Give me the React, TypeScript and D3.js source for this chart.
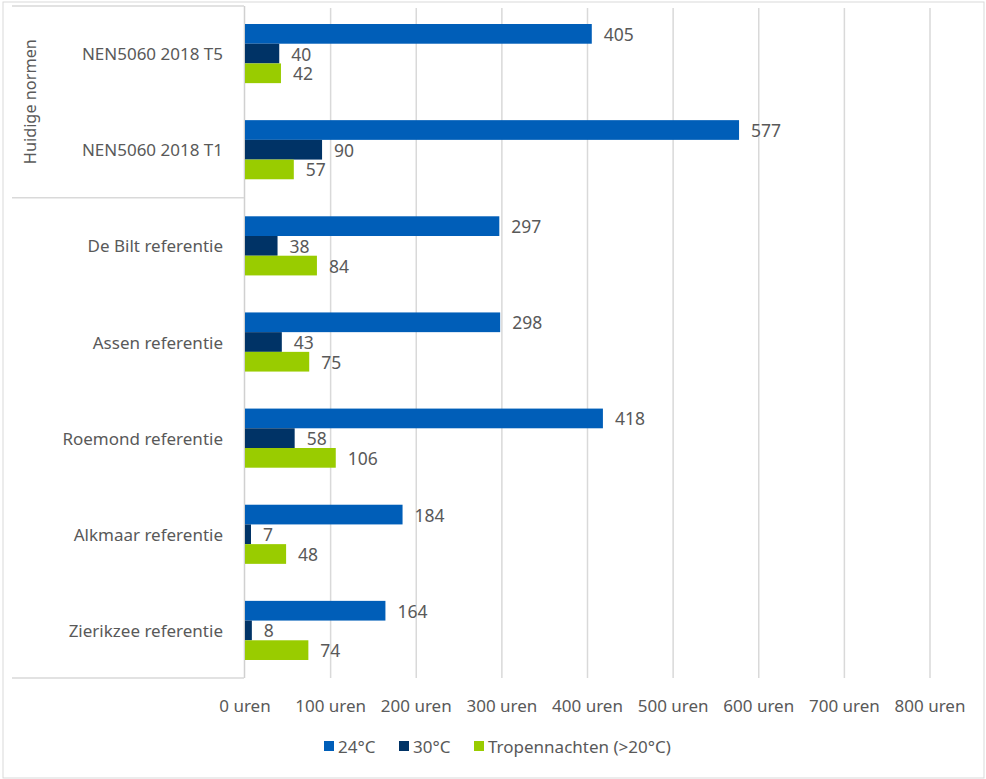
import React from "react";
import * as d3 from "d3";

const categories = [
  "NEN5060 2018 T5",
  "NEN5060 2018 T1",
  "De Bilt referentie",
  "Assen referentie",
  "Roemond referentie",
  "Alkmaar referentie",
  "Zierikzee referentie",
];
const seriesNames = ["24°C", "30°C", "Tropennachten (>20°C)"];
const values24 = [405, 577, 297, 298, 418, 184, 164];
const values30 = [40, 90, 38, 43, 58, 7, 8];
const valuesTropen = [42, 57, 84, 75, 106, 48, 74];
const ticks = [0, 100, 200, 300, 400, 500, 600, 700, 800];
const groupLabel = "Huidige normen";
const colors = ["#005EB8", "#003366", "#99CC00"];

const W = 986;
const H = 779;
const FONT = "'Noto Sans', 'Liberation Sans', sans-serif";
const TOP = 5.5;
const BOTTOM = 678.5;

export default function App() {
  const x = d3.scaleLinear().domain([0, 800]).range([245, 930]);
  const y = d3.scaleBand<string>().domain(categories).range([TOP, BOTTOM]).paddingInner(0.385).paddingOuter(0.1925);
  const inner = d3.scaleBand<number>().domain([0, 1, 2]).range([0, y.bandwidth()]);
  const series = [values24, values30, valuesTropen];
  const band = (BOTTOM - TOP) / categories.length;
  return (
    <svg width={W} height={H} style={{ position: "absolute", left: 0, top: 0, background: "#fff" }}>
      <rect x={3} y={2} width={W - 5} height={H - 3} fill="#fff" stroke="#d9d9d9" strokeWidth={1} />
      {ticks.slice(1).map((t) => (
        <line key={t} x1={x(t)} x2={x(t)} y1={8} y2={678} stroke="#d9d9d9" strokeWidth={1.5} />
      ))}
      <line x1={244.5} x2={244.5} y1={6} y2={678} stroke="#d0d0d0" strokeWidth={1.5} />
      <line x1={12} x2={244} y1={6} y2={6} stroke="#d9d9d9" strokeWidth={1.5} />
      <line x1={12} x2={244} y1={TOP + band * 2} y2={TOP + band * 2} stroke="#d9d9d9" strokeWidth={1.5} />
      <line x1={12} x2={244} y1={678} y2={678} stroke="#d9d9d9" strokeWidth={1.5} />
      <text
        transform={`translate(30,${TOP + band})  rotate(-90)`}
        textAnchor="middle"
        dominantBaseline="central"
        fontFamily={FONT}
        fontSize={16.3}
        fill="#595959"
      >
        {groupLabel}
      </text>
      {categories.map((c, i) => (
        <g key={c}>
          <text
            x={223}
            y={TOP + band * (i + 0.5)}
            textAnchor="end"
            dominantBaseline="central"
            fontFamily={FONT}
            fontSize={17}
            fill="#595959"
          >
            {c}
          </text>
          {series.map((s, k) => {
            const by = (y(c) as number) + (inner(k) as number);
            return (
              <g key={k}>
                <rect x={x(0)} y={by} width={x(s[i]) - x(0)} height={inner.bandwidth()} fill={colors[k]} />
                <text
                  x={x(s[i]) + 12}
                  y={by + inner.bandwidth() / 2}
                  dominantBaseline="central"
                  fontFamily={FONT}
                  fontSize={17.5}
                  fill="#595959"
                >
                  {s[i]}
                </text>
              </g>
            );
          })}
        </g>
      ))}
      {ticks.map((t) => (
        <text
          key={t}
          x={x(t)}
          y={705}
          textAnchor="middle"
          dominantBaseline="central"
          fontFamily={FONT}
          fontSize={17}
          fill="#595959"
        >
          {`${t} uren`}
        </text>
      ))}
      {seriesNames.map((n, k) => {
        const lx = [324, 399, 474][k];
        return (
          <g key={n}>
            <rect x={lx} y={741} width={10} height={10} fill={colors[k]} />
            <text x={lx + 14} y={746} dominantBaseline="central" fontFamily={FONT} fontSize={17} fill="#595959">
              {n}
            </text>
          </g>
        );
      })}
    </svg>
  );
}
